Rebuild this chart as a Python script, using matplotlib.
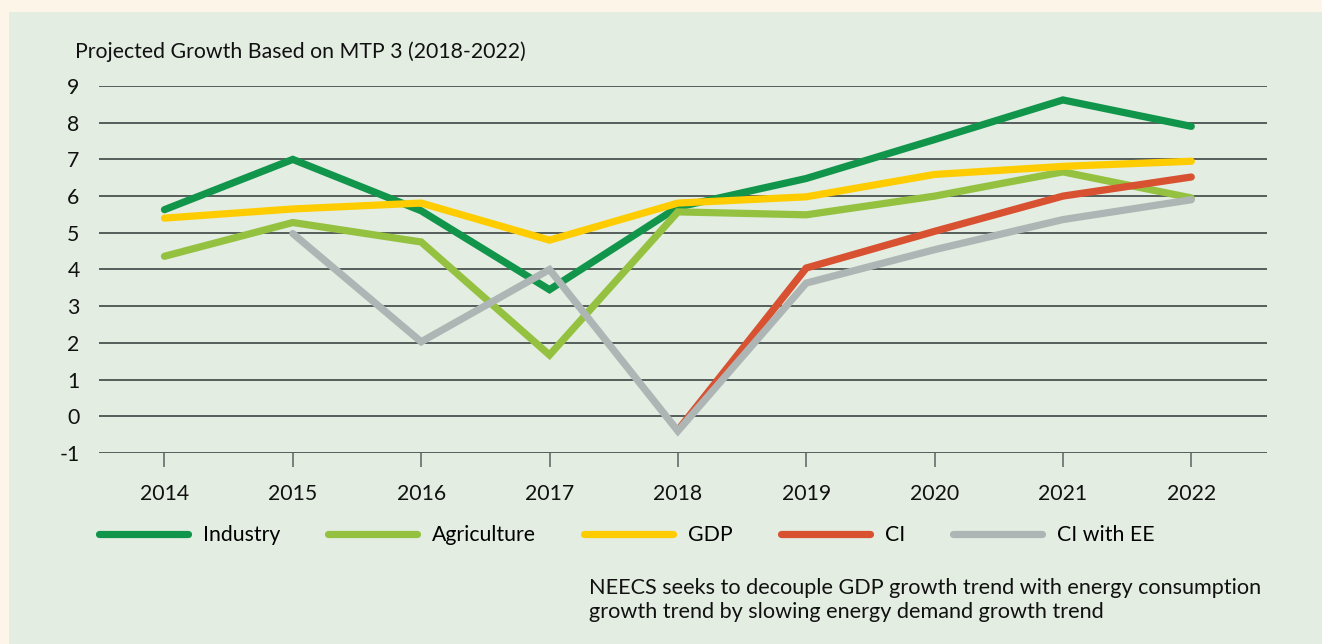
#!/usr/bin/env python3
"""Projected growth based on MTP 3 (2018-2022): line chart recreation."""

import matplotlib

matplotlib.use("Agg")
import matplotlib.pyplot as plt
from matplotlib.patches import Rectangle

YEARS = [2014, 2015, 2016, 2017, 2018, 2019, 2020, 2021, 2022]
INDUSTRY = [5.63, 7.0, 5.6, 3.45, 5.7, 6.48, 7.54, 8.62, 7.9]
AGRICULTURE = [4.36, 5.28, 4.75, 1.67, 5.57, 5.49, 6.0, 6.66, 5.95]
GDP = [5.4, 5.65, 5.81, 4.8, 5.81, 5.98, 6.59, 6.81, 6.95]
CI_YEARS = [2018, 2019, 2020, 2021, 2022]
CI = [-0.38, 4.04, 5.04, 6.0, 6.52]
CI_EE_YEARS = [2015, 2016, 2017, 2018, 2019, 2020, 2021, 2022]
CI_EE = [4.98, 2.03, 4.0, -0.4, 3.63, 4.54, 5.36, 5.9]

TITLE = "Projected Growth Based on MTP 3 (2018-2022)"
NOTE = ("NEECS seeks to decouple GDP growth trend with energy consumption\n"
        "growth trend by slowing energy demand growth trend")

COLORS = {
    "Industry": "#10954b",
    "Agriculture": "#94c13f",
    "GDP": "#ffcc00",
    "CI": "#d85131",
    "CI with EE": "#adb6b5",
}

plt.rcParams["font.family"] = ["Lato", "DejaVu Sans"]
FS = 15.3

W, H = 1322, 644
fig = plt.figure(figsize=(W / 100, H / 100), dpi=100)
fig.patch.set_facecolor("#fdf5e8")
fig.patches.append(Rectangle((9 / W, 0), 1, 1 - 12 / H, transform=fig.transFigure,
                             facecolor="#e3ede1", edgecolor="none", zorder=-10))

ax = fig.add_axes([99 / W, 1 - 453 / H, (1267 - 99) / W, (453 - 86) / H])
ax.set_zorder(2)
ax.set_facecolor("none")

series = [
    ("Industry", YEARS, INDUSTRY),
    ("Agriculture", YEARS, AGRICULTURE),
    ("GDP", YEARS, GDP),
    ("CI", CI_YEARS, CI),
    ("CI with EE", CI_EE_YEARS, CI_EE),
]
for name, xs, ys in series:
    ax.plot(xs, ys, color=COLORS[name], lw=5.2, label=name,
            solid_capstyle="round", solid_joinstyle="miter", zorder=3)

ax.set_xlim(2013.49, 2022.59)
ax.set_ylim(-1, 9)
ax.set_yticks(range(-1, 10))
ax.set_yticklabels([str(v) for v in range(-1, 10)])
ax.set_xticks(YEARS)
ax.set_xticklabels([str(y) for y in YEARS])
ax.yaxis.grid(True, color="#4b5352", lw=1.3)
ax.set_axisbelow(True)
for s in ax.spines.values():
    s.set_visible(False)
ax.tick_params(axis="y", length=0, pad=14, labelsize=FS, colors="#111111")
ax.tick_params(axis="x", length=10, width=1.1, color="#5a6262", pad=12,
               labelsize=FS, labelcolor="#111111")

fig.text(75 / W, 1 - 52 / H, TITLE, fontsize=FS, color="#111111", va="center")

ax.legend(loc="center left", bbox_to_anchor=(-0.0165, -0.2246), ncol=5, frameon=False,
          fontsize=FS, handlelength=4.2, handletextpad=0.7, columnspacing=2.25)

fig.text(589 / W, 1 - 600 / H, NOTE, fontsize=15.6, color="#111111", va="center",
         linespacing=1.3)

fig.savefig("out.png", dpi=100, facecolor=fig.get_facecolor())
